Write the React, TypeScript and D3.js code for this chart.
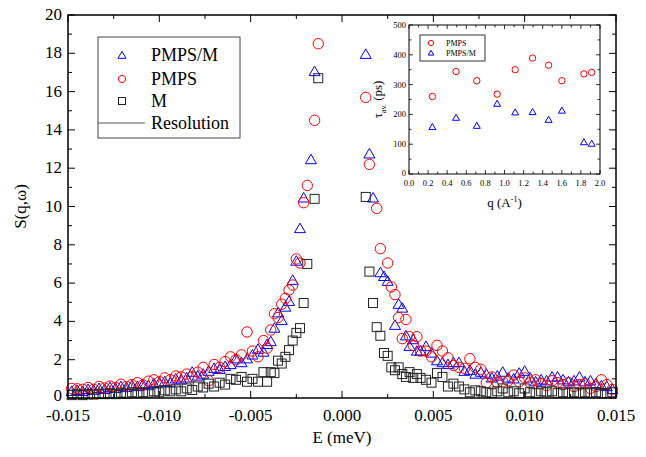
import React, { useEffect } from 'react';
import * as d3 from 'd3';

// energy grid (meV), shared by the three series
const energy = [
  -0.0148, -0.0145, -0.0142, -0.0139, -0.0136, -0.0133, -0.0130, -0.0127, -0.0124, -0.0121,
  -0.0118, -0.0115, -0.0112, -0.0109, -0.0106, -0.0103, -0.0100, -0.0097, -0.0094, -0.0091,
  -0.0088, -0.0085, -0.0082, -0.0079, -0.0076, -0.0073, -0.0070, -0.0067, -0.0064, -0.0061,
  -0.0058, -0.0055, -0.0052, -0.0049, -0.0046, -0.0043,
  -0.0041, -0.0039, -0.0037, -0.0035, -0.0033, -0.0031, -0.0029, -0.0027, -0.0025, -0.0023,
  -0.0021, -0.0019, -0.0017, -0.0015, -0.0013,
  0.0013, 0.0015, 0.0017, 0.0019, 0.0021, 0.0023, 0.0025, 0.0027, 0.0029, 0.0031,
  0.0033, 0.0035, 0.0037, 0.0039, 0.0041,
  0.0043, 0.0046, 0.0049, 0.0052, 0.0055, 0.0058, 0.0061, 0.0064, 0.0067, 0.0070,
  0.0073, 0.0076, 0.0079, 0.0082, 0.0085, 0.0088, 0.0091, 0.0094, 0.0097, 0.0100,
  0.0103, 0.0106, 0.0109, 0.0112, 0.0115, 0.0118, 0.0121, 0.0124, 0.0127, 0.0130,
  0.0133, 0.0136, 0.0139, 0.0142, 0.0145, 0.0148,
];

const pmpsM = [
  0.30, 0.35, 0.30, 0.40, 0.35, 0.45, 0.40, 0.50, 0.45, 0.55,
  0.50, 0.60, 0.55, 0.65, 0.60, 0.70, 0.75, 0.80, 0.75, 0.95,
  0.90, 1.00, 1.30, 1.10, 1.20, 1.35, 1.50, 1.45, 1.60, 1.70,
  2.00, 1.80, 2.00, 2.20, 2.50, 2.35,
  2.75, 2.90, 3.60, 4.40, 4.00, 4.70, 5.00, 6.10, 7.10, 8.80,
  10.4, null, 12.4, 17.0, null,
  17.9, 12.7, 10.4, null, 6.5, 6.3, 6.05, null, 3.75, 4.85,
  4.65, 3.2, 2.65, 3.0, 2.4,
  2.4, 2.65, 2.3, 1.9, 1.8, 1.7, 1.8, 1.8, 1.35, 1.4,
  1.2, 1.3, 1.2, 1.0, 1.1, 1.3, 1.0, 0.95, 1.25, 1.35,
  1.0, 0.8, 0.9, 0.85, 1.05, 1.05, 0.9, 0.8, 0.85, 1.05,
  0.8, 0.85, 0.7, 0.6, 0.55, 0.4,
];

const pmps = [
  0.50, 0.48, 0.45, 0.55, 0.45, 0.60, 0.52, 0.62, 0.55, 0.72,
  0.60, 0.70, 0.80, 0.68, 0.88, 0.95, 0.85, 1.05, 0.95, 1.15,
  1.10, 1.25, 1.10, 1.35, 1.60, 0.90, 1.75, 1.60, 1.90, 2.15,
  2.00, 2.25, 3.45, 2.45, 2.15, 3.00,
  2.60, 3.55, 4.40, 4.20, 4.90, 5.20, 5.64, 5.90, 7.26, 7.05,
  10.2, 11.1, null, 14.5, 18.5,
  15.7, 12.2, null, 9.9, 7.8, null, 7.05, 5.8, 5.4, 4.2,
  3.1, 4.1, 3.2, 2.75, 3.2,
  2.45, 2.45, 2.15, 2.75, 2.45, 2.1, 1.7, 1.6, 1.55, 2.05,
  1.6, 1.5, 0.8, 1.1, 0.8, 0.85, 0.9, 1.2, 0.85, 1.05,
  0.8, 0.95, 0.75, 0.65, 0.9, 0.8, 0.7, 0.8, 0.6, 0.7,
  0.75, 0.5, 0.6, 0.95, 0.7, 0.45,
];

const mOnly = [
  0.15, 0.20, 0.15, 0.20, 0.18, 0.22, 0.20, 0.25, 0.20, 0.28,
  0.22, 0.30, 0.25, 0.30, 0.28, 0.35, 0.30, 0.40, 0.35, 0.45,
  0.35, 0.50, 0.42, 0.60, 0.55, 0.75, 0.60, 0.80, 0.70, 1.00,
  0.95, 1.10, 0.85, 1.00, 0.85, 1.35,
  0.85, 1.35, 1.30, 1.95, 1.80, 2.15, 2.50, 3.00, 3.40, 3.65,
  4.96, 7.00, null, 10.4, 16.7,
  10.5, 6.6, 4.96, 3.7, 3.25, 2.35, 2.2, 1.6, 1.45, 1.6,
  1.25, 1.1, 1.35, 1.05, 1.25,
  1.05, 0.95, 0.8, 1.3, 1.1, 0.6, 0.75, 0.6, 0.45, 0.3,
  0.4, 0.35, 0.3, 0.25, 0.35, 0.5, 0.3, 0.35, 0.25, 0.5,
  0.3, 0.25, 0.35, 0.3, 0.35, 0.25, 0.3, 0.25, 0.3, 0.25,
  0.3, 0.25, 0.3, 0.25, 0.25, 0.3,
];

const xTicks = [-0.015, -0.01, -0.005, 0, 0.005, 0.01, 0.015];
const yTicks = [0, 2, 4, 6, 8, 10, 12, 14, 16, 18, 20];
const legendLabels = ['PMPS/M', 'PMPS', 'M', 'Resolution'];

// inset: relaxation time vs q
const insetQ = [0.245, 0.493, 0.71, 0.923, 1.112, 1.294, 1.462, 1.601, 1.832, 1.913];
const insetPmps = [260, 344, 313, 268, 350, 389, 365, 313, 336, 341];
const insetPmpsM = [156, 187, 160, 234, 205, 206, 180, 211, 105, 100];
const insetXTicks = [0, 0.2, 0.4, 0.6, 0.8, 1.0, 1.2, 1.4, 1.6, 1.8, 2.0];
const insetYTicks = [0, 100, 200, 300, 400, 500];

const FONT = '"Liberation Serif", "Times New Roman", Times, serif';
const RED = '#ff0000';
const BLUE = '#0000ff';
const DARK = '#222222';

function triPath(cx: number, cy: number, s: number) {
  const h = (s * Math.sqrt(3)) / 2;
  return `M${cx},${cy - (h * 2) / 3}L${cx + s / 2},${cy + h / 3}L${cx - s / 2},${cy + h / 3}Z`;
}

function App() {
  useEffect(() => {
    document.body.style.margin = '0';
  }, []);

  const width = 646;
  const height = 457;
  const x = d3.scaleLinear().domain([-0.015, 0.015]).range([68, 616]);
  const y = d3.scaleLinear().domain([0, 20]).range([398, 15]);

  const ix = d3.scaleLinear().domain([0, 2]).range([409, 600]);
  const iy = d3.scaleLinear().domain([0, 500]).range([174, 25]);

  const fmtX = (v: number) => d3.format('.3f')(v).replace('−', '-');

  const xMinor = d3.range(-0.015, 0.0151, 0.0025);
  const yMinor = d3.range(0, 20.1, 1);
  const ixMinor = d3.range(0, 2.01, 0.1);
  const iyMinor = d3.range(0, 501, 50);

  const pts = (vals: (number | null)[]) =>
    energy.map((e, i) => ({ e, v: vals[i] })).filter((d) => d.v !== null) as { e: number; v: number }[];

  const [x0, x1] = x.range();
  const [y0, y1] = y.range();
  const [ix0, ix1] = ix.range();
  const [iy0, iy1] = iy.range();

  return (
    <svg
      width={width}
      height={height}
      style={{ position: 'absolute', left: 0, top: 0, background: '#fff', fontFamily: FONT }}
    >
      <rect width={width} height={height} fill="#fff" />

      {/* data */}
      <g fill="none" strokeWidth={1}>
        {pts(pmpsM).map((d, i) => (
          <path key={'b' + i} d={triPath(x(d.e), y(d.v), 11)} stroke={BLUE} />
        ))}
        {pts(pmps).map((d, i) => (
          <circle key={'r' + i} cx={x(d.e)} cy={y(d.v)} r={5.2} stroke={RED} />
        ))}
        {pts(mOnly).map((d, i) => (
          <rect key={'k' + i} x={x(d.e) - 4.5} y={y(d.v) - 4.5} width={9} height={9} stroke={DARK} />
        ))}
      </g>

      {/* main frame and ticks */}
      <rect x={x0} y={y1} width={x1 - x0} height={y0 - y1} fill="none" stroke="#000" strokeWidth={1.5} />
      <g stroke="#000" strokeWidth={1}>
        {xMinor.map((t, i) => {
          const len = i % 2 === 0 ? 7 : 4;
          return (
            <g key={'xt' + i}>
              <line x1={x(t)} x2={x(t)} y1={y0} y2={y0 - len} />
              <line x1={x(t)} x2={x(t)} y1={y1} y2={y1 + len} />
            </g>
          );
        })}
        {yMinor.map((t, i) => {
          const len = i % 2 === 0 ? 7 : 4;
          return (
            <g key={'yt' + i}>
              <line x1={x0} x2={x0 + len} y1={y(t)} y2={y(t)} />
              <line x1={x1} x2={x1 - len} y1={y(t)} y2={y(t)} />
            </g>
          );
        })}
      </g>
      <g fontSize={17} fill="#000" style={{ fontFamily: FONT }}>
        {xTicks.map((t) => (
          <text key={'xl' + t} x={x(t)} y={y0 + 23} textAnchor="middle">
            {fmtX(t)}
          </text>
        ))}
        {yTicks.map((t) => (
          <text key={'yl' + t} x={x0 - 6} y={y(t) + (t === 0 ? 3 : 5)} textAnchor="end">
            {t}
          </text>
        ))}
      </g>
      <text x={(x0 + x1) / 2} y={443} fontSize={17} textAnchor="middle" style={{ fontFamily: FONT }}>
        E (meV)
      </text>
      <text
        transform={`translate(26, ${(y0 + y1) / 2}) rotate(-90)`}
        fontSize={17}
        textAnchor="middle"
        style={{ fontFamily: FONT }}
      >
        S(q,ω)
      </text>

      {/* main legend */}
      <g style={{ fontFamily: FONT }}>
        <rect x={98} y={37} width={142} height={101} fill="#fff" stroke="#444" strokeWidth={1} />
        <path d={triPath(122, 56, 8)} fill="none" stroke={BLUE} strokeWidth={1} />
        <circle cx={122} cy={79} r={3.6} fill="none" stroke={RED} strokeWidth={1} />
        <rect x={118.5} y={97.5} width={7} height={7} fill="none" stroke={DARK} strokeWidth={1} />
        <line x1={98} x2={145} y1={123} y2={123} stroke="#555" strokeWidth={1.2} />
        {legendLabels.map((l, i) => (
          <text key={l} x={151} y={[61, 85, 107, 129][i]} fontSize={18}>
            {l}
          </text>
        ))}
      </g>

      {/* inset */}
      <g style={{ fontFamily: FONT }}>
        <rect x={ix0} y={iy1} width={ix1 - ix0} height={iy0 - iy1} fill="#fff" stroke="#000" strokeWidth={1} />
        <g stroke="#000" strokeWidth={0.8}>
          {ixMinor.map((t, i) => {
            const len = i % 2 === 0 ? 4 : 2.5;
            return (
              <g key={'ixt' + i}>
                <line x1={ix(t)} x2={ix(t)} y1={iy0} y2={iy0 - len} />
                <line x1={ix(t)} x2={ix(t)} y1={iy1} y2={iy1 + len} />
              </g>
            );
          })}
          {iyMinor.map((t, i) => {
            const len = i % 2 === 0 ? 4 : 2.5;
            return (
              <g key={'iyt' + i}>
                <line x1={ix0} x2={ix0 + len} y1={iy(t)} y2={iy(t)} />
                <line x1={ix1} x2={ix1 - len} y1={iy(t)} y2={iy(t)} />
              </g>
            );
          })}
        </g>
        <g fontSize={8.5} fill="#000">
          {insetXTicks.map((t) => (
            <text key={'ixl' + t} x={ix(t)} y={iy0 + 12} textAnchor="middle">
              {t.toFixed(1)}
            </text>
          ))}
          {insetYTicks.map((t) => (
            <text key={'iyl' + t} x={ix0 - 3} y={iy(t) + (t === 0 ? 1.5 : 3)} textAnchor="end">
              {t}
            </text>
          ))}
        </g>
        <text x={(ix0 + ix1) / 2} y={207} fontSize={13} textAnchor="middle">
          q (A<tspan dy={-5} fontSize={8}>-1</tspan>
          <tspan dy={5}>)</tspan>
        </text>
        <text transform={`translate(382, ${(iy0 + iy1) / 2}) rotate(-90)`} fontSize={13} textAnchor="middle">
          τ<tspan dy={4} fontSize={8}>av.</tspan>
          <tspan dy={-4}> (ps)</tspan>
        </text>

        <g fill="none" strokeWidth={1}>
          {insetQ.map((q, i) => (
            <circle key={'ic' + i} cx={ix(q)} cy={iy(insetPmps[i])} r={3.2} stroke={RED} />
          ))}
          {insetQ.map((q, i) => (
            <path key={'it' + i} d={triPath(ix(q), iy(insetPmpsM[i]), 7)} stroke={BLUE} />
          ))}
        </g>

        <rect x={420} y={35} width={65} height={26} fill="#fff" stroke="#333" strokeWidth={1} />
        <circle cx={431} cy={43} r={2.6} fill="none" stroke={RED} strokeWidth={1} />
        <path d={triPath(431, 53.5, 5.5)} fill="none" stroke={BLUE} strokeWidth={1} />
        <text x={446} y={46} fontSize={8}>PMPS</text>
        <text x={446} y={56} fontSize={8}>PMPS/M</text>
      </g>
    </svg>
  );
}

export default App;
